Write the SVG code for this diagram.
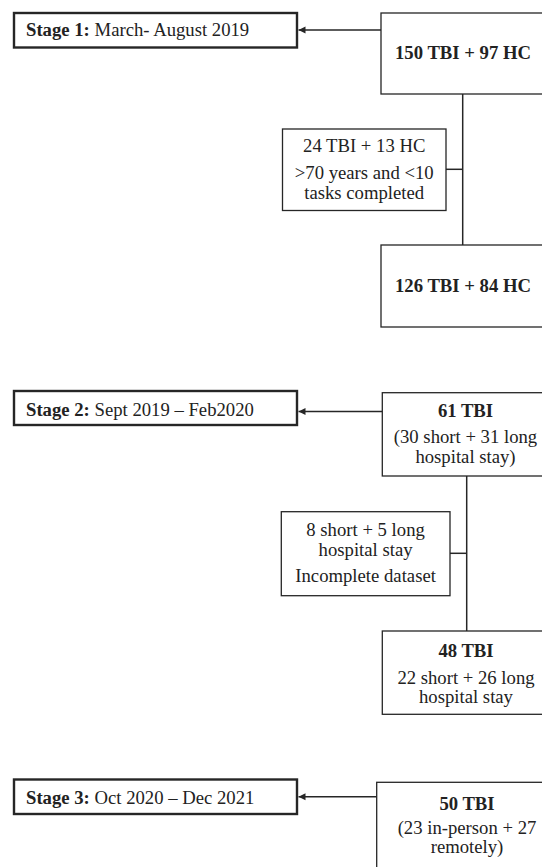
<svg xmlns="http://www.w3.org/2000/svg" width="542" height="867" viewBox="0 0 542 867">
<defs>
<style>
.bg{fill:#ffffff}
.stage{fill:#fff;stroke:#262626;stroke-width:2.4}
.box{fill:#fff;stroke:#262626;stroke-width:1.3}
.t{font-family:"Liberation Serif","Times New Roman",serif;font-size:18.7px;fill:#222}
.c{text-anchor:middle}
.b{font-weight:bold}
.ln{stroke:#262626;stroke-width:1.5;fill:none}
</style>
<marker id="ah" viewBox="0 0 10 10" refX="10" refY="5" markerWidth="7" markerHeight="8" markerUnits="userSpaceOnUse" orient="auto">
<path d="M0,0 L10,5 L0,10 z" fill="#262626"/>
</marker>
</defs>
<rect class="bg" x="0" y="0" width="542" height="867"/>

<g id="connectors">
<line class="ln" x1="381" y1="30" x2="298.5" y2="30" marker-end="url(#ah)"/>
<line class="ln" x1="462.7" y1="94" x2="462.7" y2="245"/>
<line class="ln" x1="446" y1="169.3" x2="462.7" y2="169.3"/>
<line class="ln" x1="382.3" y1="411.5" x2="298.5" y2="411.5" marker-end="url(#ah)"/>
<line class="ln" x1="466.7" y1="476" x2="466.7" y2="631"/>
<line class="ln" x1="450" y1="553.3" x2="466.7" y2="553.3"/>
<line class="ln" x1="380" y1="796.7" x2="298.5" y2="796.7" marker-end="url(#ah)"/>
</g>

<g id="stage1">
<rect class="stage" x="14" y="13" width="283" height="34.5"/>
<text class="t" x="26" y="36"><tspan class="b">Stage 1:</tspan> March- August 2019</text>
</g>
<g id="n150">
<rect class="box" x="381" y="13" width="175" height="81"/>
<text class="t c b" x="463" y="59.3">150 TBI + 97 HC</text>
</g>
<g id="excl1">
<rect class="box" x="282.5" y="129" width="163.5" height="81.5"/>
<text class="t c" x="364.2" y="152">24 TBI + 13 HC</text>
<text class="t c" x="364.2" y="179">&gt;70 years and &lt;10</text>
<text class="t c" x="364.2" y="198.7">tasks completed</text>
</g>
<g id="n126">
<rect class="box" x="381" y="245" width="175" height="82"/>
<text class="t c b" x="463" y="292">126 TBI + 84 HC</text>
</g>

<g id="stage2">
<rect class="stage" x="14" y="391" width="283" height="34"/>
<text class="t" x="26" y="415.5"><tspan class="b">Stage 2:</tspan> Sept 2019 – Feb2020</text>
</g>
<g id="n61">
<rect class="box" x="382.3" y="392.7" width="175" height="83.3"/>
<text class="t c b" x="465.5" y="416.7">61 TBI</text>
<text class="t c" x="465.5" y="443.3">(30 short + 31 long</text>
<text class="t c" x="465.5" y="463.3">hospital stay)</text>
</g>
<g id="excl2">
<rect class="box" x="281.3" y="511.7" width="168.7" height="84"/>
<text class="t c" x="365.6" y="536">8 short + 5 long</text>
<text class="t c" x="365.6" y="555.5">hospital stay</text>
<text class="t c" x="365.6" y="582">Incomplete dataset</text>
</g>
<g id="n48">
<rect class="box" x="382.3" y="631" width="175" height="83.3"/>
<text class="t c b" x="466" y="656.5">48 TBI</text>
<text class="t c" x="466" y="683.5">22 short + 26 long</text>
<text class="t c" x="466" y="703">hospital stay</text>
</g>

<g id="stage3">
<rect class="stage" x="14" y="779.5" width="283" height="34.5"/>
<text class="t" x="26" y="804"><tspan class="b">Stage 3:</tspan> Oct 2020 – Dec 2021</text>
</g>
<g id="n50">
<rect class="box" x="376.7" y="782.3" width="180" height="100"/>
<text class="t c b" x="467" y="809.5">50 TBI</text>
<text class="t c" x="467" y="834">(23 in-person + 27</text>
<text class="t c" x="467" y="853">remotely)</text>
</g>
</svg>
